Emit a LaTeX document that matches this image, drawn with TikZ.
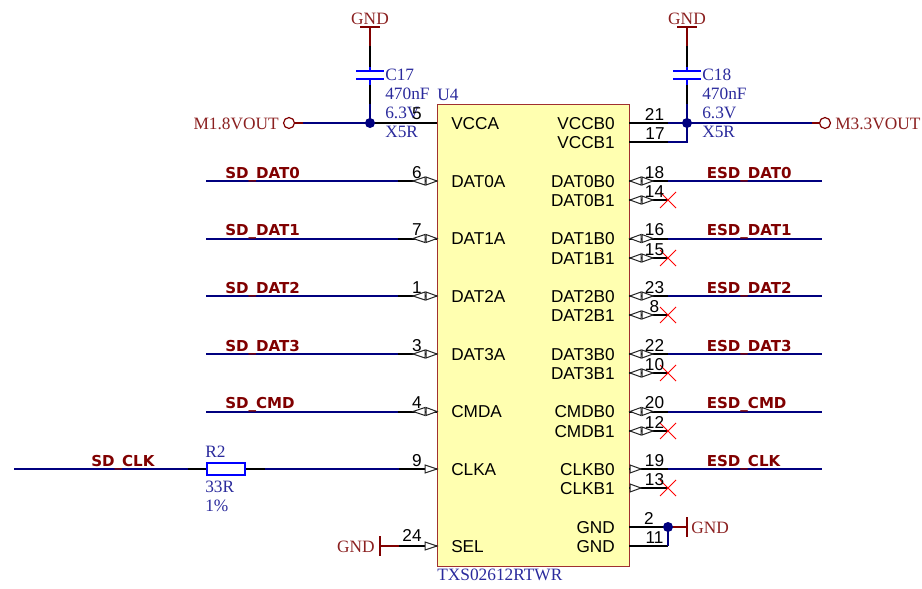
\documentclass[tikz,border=0pt]{standalone}
\usepackage{fontspec}
\setmainfont{Liberation Serif}
\newfontfamily\pinfont{Liberation Sans}
\newfontfamily\netfont{DejaVu Sans}[BoldFont={DejaVu Sans Bold}]
\definecolor{netblue}{HTML}{00007F}
\definecolor{dred}{HTML}{800000}
\definecolor{tred}{HTML}{8B2020}
\definecolor{tblue}{HTML}{2A2A9C}
\definecolor{partfill}{HTML}{FFFFB0}
\definecolor{partline}{HTML}{A03030}
\tikzset{
  x=.75pt,y=-.75pt,
  pinwire/.style={draw=black,line width=1.5pt},
  netwire/.style={draw=netblue,line width=1.5pt},
  pwrwire/.style={draw=dred,line width=1.5pt},
  plate/.style={draw=blue,line width=1.5pt},
  dotmark/.style={circle,fill=netblue,inner sep=0pt,minimum size=7.5pt},
  portring/.style={circle,draw=dred,line width=.9pt,fill=white,inner sep=0pt,minimum size=8.2pt},
  pintext/.style={font=\pinfont\fontsize{12.9}{14}\selectfont,text=black,inner sep=0pt},
  numtext/.style={pintext,anchor=base},
  nettext/.style={font=\netfont\bfseries\fontsize{11.3}{13}\selectfont,text=dred,inner sep=0pt,anchor=base west},
  redtext/.style={font=\fontsize{13}{14}\selectfont,text=tred,inner sep=0pt},
  bluetext/.style={font=\fontsize{13}{14}\selectfont,text=tblue,inner sep=0pt,anchor=base west},
  markfill/.style={fill=white,draw=black!85,line width=.75pt,line join=miter},
  xmark/.style={draw=red,line width=.75pt},
  chip/.style={rectangle,draw=partline,fill=partfill,line width=.75pt,inner sep=0pt,minimum width=144pt,minimum height=346.5pt},
}
% triangle: tip x, base x, y
\newcommand\tri[3]{\path[markfill] (#1,#3) -- (#2,#3-4) -- (#2,#3+4) -- cycle;}
\newcommand\leftpin[5]{% y, num, name, net, style: 1 bidir 0 input
  \coordinate (wl#2) at (206,#1);
  \coordinate (wm#2) at (398,#1);
  \coordinate (pl#2) at (437,#1);
  \draw[netwire] (wl#2) -- (wm#2);
  \draw[pinwire] (wm#2) -- (pl#2);
  \ifnum#5=1 \tri{413}{425}{#1}\tri{437}{426}{#1}\else \tri{437}{426}{#1}\fi
  \node[numtext] (n#2) at (417,#1-3) {#2};
  \node[pintext,anchor=base west] (t#2) at (451,#1+6) {#3};
  \node[nettext] (net#2) at (225,#1-3) {#4};
}
\newcommand\rpinmark[2]{% y, style
  \ifnum#2=1 \tri{630}{641}{#1}\tri{653}{642}{#1}\else \tri{641}{630}{#1}\fi}
\newcommand\rightpair[8]{% y0 num0 name0 net y1 num1 name1 style
  \coordinate (pr#2) at (629,#1);
  \coordinate (wm#2) at (668,#1);
  \coordinate (wr#2) at (822,#1);
  \draw[pinwire] (pr#2) -- (wm#2);
  \draw[netwire] (wm#2) -- (wr#2);
  \rpinmark{#1}{#8}
  \node[numtext] (n#2) at (654.5,#1-3) {#2};
  \node[pintext,anchor=base east] (t#2) at (615,#1+6) {#3};
  \node[nettext] (net#2) at (706.5,#1-3) {#4};
  \coordinate (pr#6) at (629,#5);
  \coordinate (nc#6) at (668,#5);
  \draw[pinwire] (pr#6) -- (nc#6);
  \rpinmark{#5}{#8}
  \draw[xmark] (660,#5-8) -- (676,#5+8) (660,#5+8) -- (676,#5-8);
  \node[numtext] (n#6) at (654.5,#5-3) {#6};
  \node[pintext,anchor=base east] (t#6) at (615,#5+6) {#7};
}
\newcommand\capacitor[4]{% name, x, value-x, label
  \coordinate (#1g) at (#2,27);
  \coordinate (#1a) at (#2,46);
  \coordinate (#1b) at (#2,67);
  \coordinate (#1c) at (#2,71);
  \coordinate (#1d) at (#2,79);
  \coordinate (#1e) at (#2,85);
  \coordinate (#1f) at (#2,104);
  \coordinate (#1j) at (#2,123);
  \draw[pwrwire] (#1g) -- (#1a);
  \draw[pinwire] (#1a) -- (#1b);
  \draw[plate] (#1b) -- (#1c) (#1d) -- (#1e);
  \draw[plate] (#2-14,71) -- (#2+14,71) (#2-14,79) -- (#2+14,79);
  \draw[pinwire] (#1e) -- (#1f);
  \draw[netwire] (#1f) -- (#1j);
  \draw[pwrwire] (#2-10,27) -- (#2+10,27);
  \node[redtext,anchor=base] (#1gnd) at (#2,24) {GND};
  \node[bluetext] (#1v1) at (#3,80) {#4};
  \node[bluetext] (#1v2) at (#3,99) {470nF};
  \node[bluetext] (#1v3) at (#3,118) {6.3V};
  \node[bluetext] (#1v4) at (#3,137) {X5R};
}
\begin{document}
\begin{tikzpicture}
\useasboundingbox (0,0) rectangle (922,589);
\node[chip] (U4) at (533,335) {};
\node[bluetext] (U4ref) at (437,100) {U4};
\node[bluetext] (U4part) at (437,580) {TXS02612RTWR};

% power left
\capacitor{c17}{370}{385}{C17}
\node[portring] (p18) at (289,123) {};
\coordinate (p18b) at (303,123);
\coordinate (p5) at (437,123);
\draw[pwrwire] (p18.east) -- (p18b);
\draw[netwire] (p18b) -- (c17j);
\draw[pinwire] (c17j) -- (p5);
\node[dotmark] (d17) at (c17j) {};
\node[redtext,anchor=base east] (p18t) at (279,129) {M1.8VOUT};
\node[numtext] (n5) at (417,119) {5};
\node[pintext,anchor=base west] (t5) at (451,129) {VCCA};

% power right
\capacitor{c18}{687}{702}{C18}
\coordinate (p21) at (629,123);
\coordinate (p21m) at (668,123);
\coordinate (p17) at (629,142);
\coordinate (p17m) at (668,142);
\coordinate (p17c) at (687,142);
\coordinate (p33b) at (812,123);
\node[portring] (p33) at (825,123) {};
\draw[pinwire] (p21) -- (p21m);
\draw[netwire] (p21m) -- (c18j);
\draw[netwire] (c18j) -- (p33b);
\draw[pwrwire] (p33b) -- (p33.west);
\draw[pinwire] (p17) -- (p17m);
\draw[netwire] (p17m) -- (p17c) -- (c18j);
\node[dotmark] (d18) at (c18j) {};
\node[redtext,anchor=base west] (p33t) at (835,129) {M3.3VOUT};
\node[numtext] (n21) at (654.5,120) {21};
\node[numtext] (n17) at (655,139) {17};
\node[pintext,anchor=base east] (t21) at (615,129) {VCCB0};
\node[pintext,anchor=base east] (t17) at (615,148.5) {VCCB1};

% left signal pins
\leftpin{181}{6}{DAT0A}{SD\_DAT0}{1}
\leftpin{238.5}{7}{DAT1A}{SD\_DAT1}{1}
\leftpin{296}{1}{DAT2A}{SD\_DAT2}{1}
\leftpin{354}{3}{DAT3A}{SD\_DAT3}{1}
\leftpin{411.5}{4}{CMDA}{SD\_CMD}{1}

% right signal pins
\rightpair{181}{18}{DAT0B0}{ESD\_DAT0}{200}{14}{DAT0B1}{1}
\rightpair{238.5}{16}{DAT1B0}{ESD\_DAT1}{258}{15}{DAT1B1}{1}
\rightpair{296}{23}{DAT2B0}{ESD\_DAT2}{315}{8}{DAT2B1}{1}
\rightpair{354}{22}{DAT3B0}{ESD\_DAT3}{373}{10}{DAT3B1}{1}
\rightpair{411.5}{20}{CMDB0}{ESD\_CMD}{431}{12}{CMDB1}{1}
\rightpair{469}{19}{CLKB0}{ESD\_CLK}{488}{13}{CLKB1}{0}

% clock with resistor
\coordinate (clk0) at (14,469);
\coordinate (clk1) at (188,469);
\node[draw=blue,line width=1.5pt,fill=white,minimum width=28.5pt,minimum height=8.5pt,inner sep=0pt] (R2) at (225.5,469) {};
\coordinate (clk2) at (265,469);
\coordinate (clk3) at (399,469);
\coordinate (p9) at (437,469);
\draw[netwire] (clk0) -- (clk1);
\draw[pinwire] (clk1) -- (R2.west);
\draw[pinwire] (R2.east) -- (clk2);
\draw[netwire] (clk2) -- (clk3);
\draw[pinwire] (clk3) -- (p9);
\tri{437}{425}{469}
\node[nettext] (netclk) at (91,466) {SD\_CLK};
\node[bluetext] (R2a) at (205,457) {R2};
\node[bluetext] (R2b) at (205,492) {33R};
\node[bluetext] (R2c) at (205,511) {1\%};
\node[numtext] (n9) at (417,466) {9};
\node[pintext,anchor=base west] (t9) at (451,475) {CLKA};

% SEL
\coordinate (g24) at (380,546);
\coordinate (g24m) at (399,546);
\coordinate (p24) at (437,546);
\draw[pwrwire] (g24) -- (g24m);
\draw[pinwire] (g24m) -- (p24);
\draw[pwrwire] (380,536) -- (380,556);
\tri{437}{425}{546}
\node[redtext,anchor=base east] (g24t) at (375,552) {GND};
\node[numtext] (n24) at (412,541) {24};
\node[pintext,anchor=base west] (t24) at (451,552) {SEL};

% GND right
\coordinate (p2) at (629,527);
\coordinate (p2m) at (668,527);
\coordinate (p11) at (629,546);
\coordinate (p11m) at (668,546);
\coordinate (gr) at (687,527);
\draw[pinwire] (p2) -- (p2m);
\draw[pinwire] (p11) -- (p11m);
\draw[netwire] (p11m) -- (p2m);
\draw[pwrwire] (p2m) -- (gr);
\draw[pwrwire] (687,517) -- (687,537);
\node[dotmark] (d2) at (p2m) {};
\node[redtext,anchor=base west] (grt) at (691,533) {GND};
\node[numtext] (n2) at (649,524) {2};
\node[numtext] (n11) at (654.5,543) {11};
\node[pintext,anchor=base east] (t2) at (615,533) {GND};
\node[pintext,anchor=base east] (t11) at (615,552) {GND};
\end{tikzpicture}
\end{document}
